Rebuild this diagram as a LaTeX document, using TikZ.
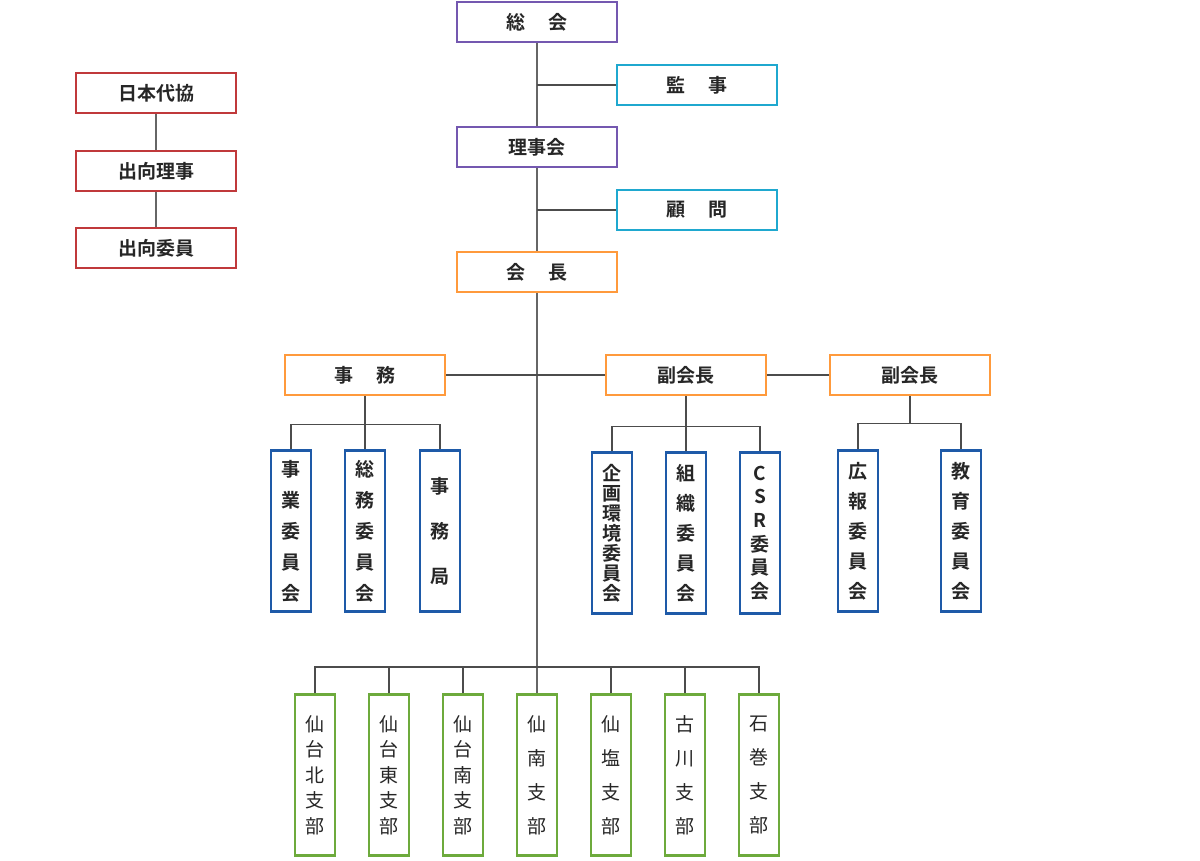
\documentclass[tikz,border=0pt]{standalone}
\usepackage{fontspec}
\newfontfamily\cjk{Noto Sans CJK JP}[BoldFont={Noto Sans CJK JP Bold}]
\definecolor{cpurple}{HTML}{7458B0}
\definecolor{ccyan}{HTML}{1FA8CF}
\definecolor{corange}{HTML}{FF9A3C}
\definecolor{cred}{HTML}{C0393B}
\definecolor{cblue}{HTML}{1E5AA8}
\definecolor{cgreen}{HTML}{6DAA3C}

\begin{document}
\begin{tikzpicture}[x=1pt,y=-1pt,
  box/.style={draw=#1,fill=white,line width=2.5pt,minimum width=160pt,minimum height=40pt,inner sep=0pt,text=black!85,font=\cjk\bfseries\fontsize{19}{21}\selectfont},
  vbox/.style={draw,fill=white,line width=2.5pt,minimum width=40pt,minimum height=161pt,inner sep=0pt,align=center,text=black!85,font=\cjk\bfseries\fontsize{19}{#1}\selectfont},
  branch/.style={font=\cjk\mdseries\fontsize{19}{#1}\selectfont},
  trunk/.style={gray!80!black,line width=1.8pt},
  link/.style={black!70,line width=1.3pt}]
\useasboundingbox(0,0)rectangle(1200,861);
% top of the tree
\node[box=cpurple](sokai)at(537,22){総\hspace{1.2em}会};
\node[box=ccyan](kanji)at(697,85){監\hspace{1.2em}事};
\node[box=cpurple](rijikai)at(537,147){理事会};
\node[box=ccyan](komon)at(697,210){顧\hspace{1.2em}問};
\node[box=corange](kaicho)at(537,272){会\hspace{1.2em}長};
% left column
\node[box=cred](nihon)at(156,93){日本代協};
\node[box=cred](shukoriji)at(156,171){出向理事};
\node[box=cred](shukoiin)at(156,248){出向委員};
% middle row
\node[box=corange](jimu)at(365,375){事\hspace{1.2em}務};
\node[box=corange](fuku1)at(686,375){副会長};
\node[box=corange](fuku2)at(910,375){副会長};
% committees
\node[vbox=31,draw=cblue](jigyo)at(291,531){事\\業\\委\\員\\会};
\node[vbox=31,draw=cblue](somu)at(365,531){総\\務\\委\\員\\会};
\node[vbox=45,draw=cblue](jimukyoku)at(440,531){事\\務\\局};
\node[vbox=20,draw=cblue](kikaku)at(612,533){企\\画\\環\\境\\委\\員\\会};
\node[vbox=30,draw=cblue](soshiki)at(686,533){組\\織\\委\\員\\会};
\node[vbox=23.6,draw=cblue](csr)at(760,533){C\\S\\R\\委\\員\\会};
\node[vbox=30,draw=cblue](koho)at(858,531){広\\報\\委\\員\\会};
\node[vbox=30,draw=cblue](kyoiku)at(961,531){教\\育\\委\\員\\会};
% branches
\foreach \n/\x/\s/\t in {kita/315/25.5/{仙\\台\\北\\支\\部},higashi/389/25.5/{仙\\台\\東\\支\\部},
  minami/463/25.5/{仙\\台\\南\\支\\部},sennan/537/34/{仙\\南\\支\\部},senen/611/34/{仙\\塩\\支\\部},
  furukawa/685/34/{古\\川\\支\\部},ishinomaki/759/34/{石\\巻\\支\\部}}
  \node[vbox,branch=\s,draw=cgreen](\n)at(\x,775){\t};
% connectors
\draw[trunk](sokai)--(rijikai);
\draw[trunk](rijikai)--(kaicho);
\draw[trunk](kaicho)--(sennan);
\draw[trunk](nihon)--(shukoriji);
\draw[trunk](shukoriji)--(shukoiin);
\draw[link](kanji)--(kanji-|sokai);
\draw[link](komon)--(komon-|sokai);
\draw[link](jimu)--(fuku1);
\draw[link](fuku1)--(fuku2);
\draw[link](jimu.south)--++(0,28)coordinate(j0);
\draw[link](jigyo.north)|-(j0)-|(jimukyoku.north);
\draw[link](somu.north)--(j0);
\draw[link](fuku1.south)--++(0,30)coordinate(f0);
\draw[link](kikaku.north)|-(f0)-|(csr.north);
\draw[link](soshiki.north)--(f0);
\draw[link](fuku2.south)--++(0,27)coordinate(g0);
\draw[link](koho.north)|-(g0)-|(kyoiku.north);
\coordinate(b0)at(537,667);
\draw[link](kita.north)|-(b0)-|(ishinomaki.north);
\foreach \n in {higashi,minami,senen,furukawa}
  \draw[link](\n.north)--(\n.north|-b0);
\end{tikzpicture}
\end{document}
